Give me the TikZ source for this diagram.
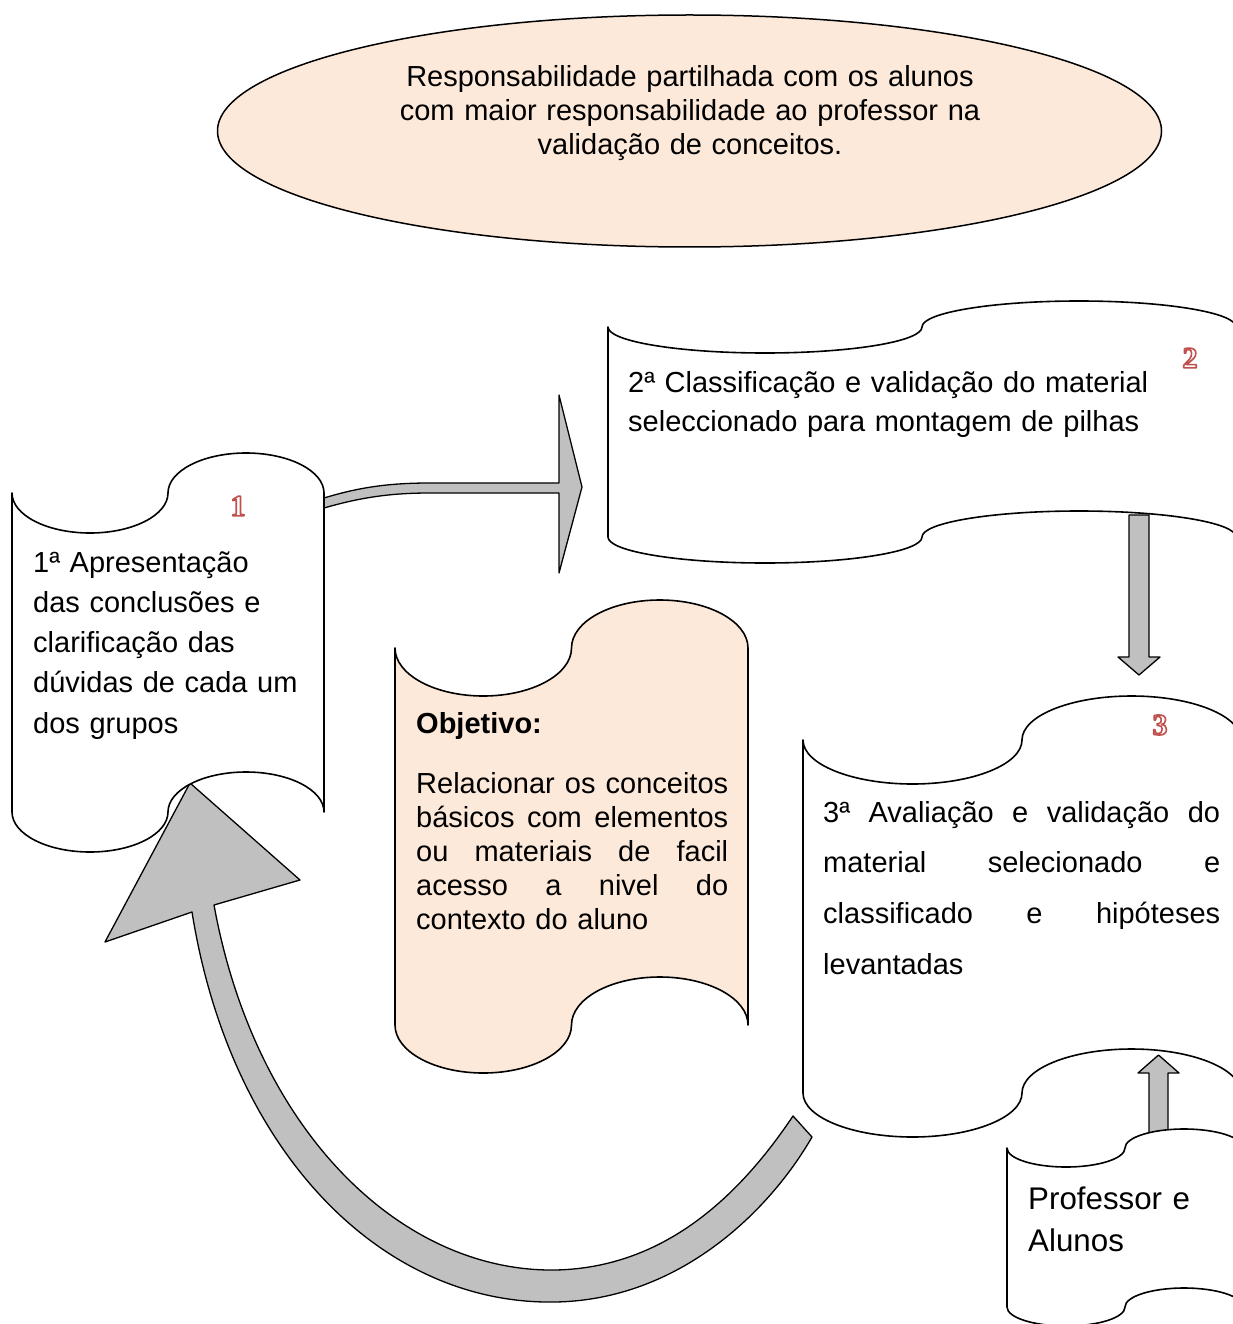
\documentclass[tikz,border=0pt]{standalone}
\usepackage{fontspec}
\setmainfont{Liberation Sans}
\newfontfamily\numfont{Liberation Serif}
\definecolor{peach}{RGB}{253,233,217}
\definecolor{arrowgray}{RGB}{192,192,192}
\definecolor{numred}{RGB}{192,80,77}
% outlined digits (stroke only)
\newcommand{\outlined}[1]{\special{pdf:literal direct 1 Tr 1.6 w}#1\special{pdf:literal direct 0 Tr}}
% justified line of given width
\newcommand{\jline}[2]{\leavevmode\hbox to #1{#2}}
% wave box: style, left x, top y, width, edge height, amplitude
\newcommand{\tape}[6][]{%
  \draw[tapeline,#1] (#2,#3) arc[start angle=180,end angle=360,x radius={#4pt/4},y radius=#6pt]
    arc[start angle=180,end angle=0,x radius={#4pt/4},y radius=#6pt]
    -- ++(0,#5)
    arc[start angle=0,end angle=180,x radius={#4pt/4},y radius=#6pt]
    arc[start angle=0,end angle=-180,x radius={#4pt/4},y radius=#6pt] -- cycle;}

\begin{document}
\begin{tikzpicture}[x=1pt,y=-1pt,line join=round,
  tapeline/.style={draw=black,line width=1.6pt,fill=white},
  blockarrow/.style={draw=black,line width=1.3pt,fill=arrowgray},
  txt/.style={inner sep=0pt,anchor=base west,align=left},
  num/.style={inner sep=0pt,text=numred,font=\numfont\bfseries\fontsize{30}{30}\selectfont}]
\useasboundingbox (0,0) rectangle (1232,1324);

% top ellipse
\draw[line width=1.5pt,fill=peach] (689.5,131) ellipse [x radius=472pt,y radius=116pt];
\node[txt,anchor=base,align=center,text width=700pt,font=\fontsize{29}{34}\selectfont] (resp) at (690,87)
  {Responsabilidade partilhada com os alunos\\com maior responsabilidade ao professor na\\validação de conceitos.};

% curved arrow back to step 1
\draw[blockarrow] (105,942) -- (190,783) -- (300,880) -- (214,905)
  .. controls (255,1130) and (400,1272) .. (555,1270)
  .. controls (665,1268) and (740,1195) .. (793,1116) -- (812,1137)
  .. controls (770,1210) and (680,1300) .. (555,1302)
  .. controls (380,1305) and (230,1150) .. (192,912) -- cycle;

% arrow 1 -> 2
\draw[blockarrow] (324,498) .. controls (360,487) and (390,483) .. (430,483) -- (559,483)
  -- (559,395) -- (582,487) -- (559,573) -- (559,493) -- (430,493)
  .. controls (392,493) and (362,497) .. (324,508) -- cycle;

% step 1
\tape{12}{493}{312}{319}{40}
\node[num] (n1) at (238,506) {\outlined{1}};
\node[txt,text width=300pt,font=\fontsize{29}{40.3}\selectfont] (t1) at (33,572)
  {1ª Apresentação\\das conclusões e\\clarificação das\\dúvidas de cada um\\dos grupos};

% step 2
\tape{608}{327}{628}{210}{26}
\node[num] (n2) at (1190,358) {\outlined{2}};
\node[txt,text width=560pt,font=\fontsize{29}{39}\selectfont] (t2) at (628,392)
  {2ª Classificação e validação do material\\seleccionado para montagem de pilhas};

% arrow 2 -> 3
\draw[blockarrow] (1129,515) -- (1149,515) -- (1149,657) -- (1160,657) -- (1139,675)
  -- (1118,657) -- (1129,657) -- cycle;

% objective
\tape[fill=peach]{395}{648}{353}{377}{48}
\node[txt,font=\bfseries\fontsize{29}{34}\selectfont] (objt) at (416,733) {Objetivo:};
\node[txt,text width=320pt,font=\fontsize{29}{34}\selectfont] (objb) at (416,793)
  {\jline{312pt}{Relacionar\hfill os\hfill conceitos}\\
   \jline{312pt}{básicos\hfill com\hfill elementos}\\
   \jline{312pt}{ou\hfill materiais\hfill de\hfill facil}\\
   \jline{312pt}{acesso\hfill a\hfill nivel\hfill do}\\
   contexto do aluno};

% step 3
\tape{803}{740}{438}{353}{44}
\node[num] (n3) at (1160,725) {\outlined{3}};
\node[txt,text width=410pt,font=\fontsize{29}{50.7}\selectfont] (t3) at (823,822)
  {\jline{397pt}{3ª\hfill Avaliação\hfill e\hfill validação\hfill do}\\
   \jline{397pt}{material\hfill selecionado\hfill e}\\
   \jline{397pt}{classificado\hfill e\hfill hipóteses}\\
   levantadas};

% arrow actors -> 3
\draw[blockarrow] (1149,1140) -- (1149,1073) -- (1138,1073) -- (1158.5,1055) -- (1179,1073)
  -- (1168,1073) -- (1168,1140) -- cycle;

% actors
\tape{1007}{1148}{236}{159}{19}
\node[txt,text width=200pt,font=\fontsize{31.3}{42}\selectfont] (t4) at (1028,1209)
  {Professor e\\Alunos};
\end{tikzpicture}
\end{document}
